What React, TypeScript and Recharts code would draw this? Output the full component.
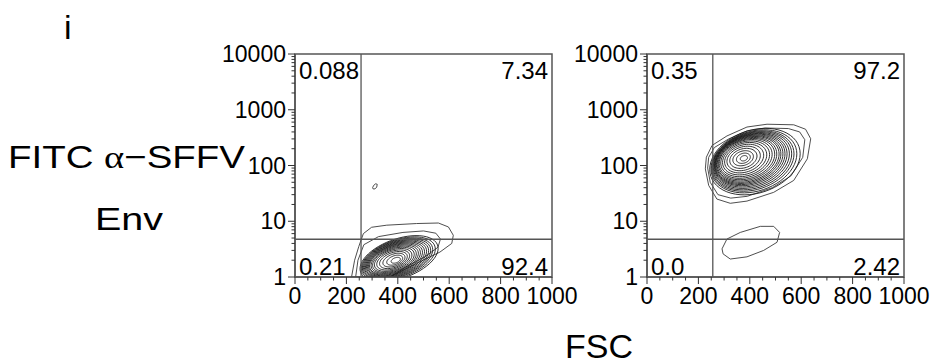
import React from 'react';
import { LineChart, Line, XAxis, YAxis, ReferenceLine, ReferenceArea } from 'recharts';

// ---------- axes ----------
const xTicks = [0, 50, 100, 150, 200, 250, 300, 350, 400, 450, 500, 550, 600, 650, 700, 750, 800, 850, 900, 950, 1000];
const xTickLabels = [0, 200, 400, 600, 800, 1000];
const yTicks = [
  1, 2, 3, 4, 5, 6, 7, 8, 9,
  10, 20, 30, 40, 50, 60, 70, 80, 90,
  100, 200, 300, 400, 500, 600, 700, 800, 900,
  1000, 2000, 3000, 4000, 5000, 6000, 7000, 8000, 9000,
  10000,
];
const yTickLabels = [1, 10, 100, 1000, 10000];

// ---------- quadrant gates & percentages ----------
const leftGate = { x: 257, y: 4.75 };
const rightGate = { x: 256, y: 4.75 };
const leftQuadrants = ['0.088', '7.34', '0.21', '92.4']; // UL, UR, LL, LR
const rightQuadrants = ['0.35', '97.2', '0.0', '2.42'];

// ---------- explicit outer contours (FSC, FITC) ----------
const leftOuterContour: [number, number][] = [
  [220, 1], [232, 2.0], [248, 3.5], [266, 6.0], [298, 7.8], [357, 8.5], [473, 9.1], [558, 9.3],
  [597, 7.9], [616, 5.6], [610, 4.0], [564, 2.8], [473, 1.76], [409, 1.24], [370, 1], [220, 1],
];
const leftSecondContour: [number, number][] = [
  [236, 1], [245, 2.0], [268, 3.8], [325, 5.3], [420, 6.3], [500, 6.7], [548, 6.1], [566, 4.8],
  [556, 3.4], [505, 2.3], [430, 1.5], [370, 1], [236, 1],
];
const leftSmallBlob: [number, number][] = [
  [302, 40], [306, 44], [314, 47], [320, 46], [318, 41], [311, 38], [304, 38], [302, 40],
];
const rightOuterContour: [number, number][] = [
  [227, 87], [240, 44], [272, 25], [324, 21], [389, 23], [493, 33], [571, 54], [624, 132],
  [637, 302], [617, 447], [571, 537], [467, 550], [389, 490], [311, 339], [253, 229], [231, 141], [227, 87],
];
const rightSecondContour: [number, number][] = [
  [236, 90], [246, 50], [276, 30], [326, 26], [390, 28], [488, 40], [560, 65], [606, 140],
  [614, 290], [594, 400], [550, 460], [460, 470], [390, 420], [318, 300], [262, 210], [240, 140], [236, 90],
];
const rightLowBlob: [number, number][] = [
  [292, 3.2], [311, 4.8], [363, 6.3], [441, 8.1], [493, 8.1], [516, 6.3], [506, 4.2],
  [454, 3.0], [389, 2.3], [324, 2.1], [296, 2.6], [292, 3.2],
];

// ---------- inner contour rings: [centre FSC, centre log10 FITC, half-width FSC, half-height decades] ----------
const leftRings: [number, number, number, number][] = [
  [405, 0.33, 152, 0.37],
  [402, 0.328, 144, 0.352],
  [399, 0.326, 137, 0.336],
  [397, 0.324, 131, 0.322],
  [395, 0.322, 125, 0.308],
  [393, 0.32, 119, 0.294],
  [391, 0.318, 113, 0.28],
  [389, 0.316, 107, 0.266],
  [387, 0.314, 101, 0.252],
  [385, 0.312, 95, 0.237],
  [384, 0.31, 88, 0.221],
  [383, 0.308, 81, 0.204],
  [382, 0.306, 73, 0.185],
  [382, 0.305, 64, 0.163],
  [383, 0.304, 54, 0.139],
  [385, 0.303, 43, 0.112],
  [388, 0.302, 31, 0.082],
  [392, 0.3, 18, 0.048],
];
const leftTilt = 0.0012;

const rightRings: [number, number, number, number][] = [
  [420, 2.07, 176, 0.58],
  [416, 2.075, 167, 0.55],
  [412, 2.08, 160, 0.527],
  [409, 2.085, 154, 0.507],
  [406, 2.09, 148, 0.487],
  [403, 2.095, 142, 0.468],
  [400, 2.1, 137, 0.45],
  [397, 2.103, 132, 0.433],
  [394, 2.106, 127, 0.416],
  [392, 2.109, 122, 0.399],
  [389, 2.112, 116, 0.38],
  [387, 2.115, 110, 0.36],
  [384, 2.118, 103, 0.338],
  [382, 2.12, 95, 0.312],
  [380, 2.122, 86, 0.283],
  [378, 2.124, 76, 0.25],
  [376, 2.126, 65, 0.214],
  [375, 2.128, 53, 0.175],
  [374, 2.13, 40, 0.132],
  [375, 2.13, 27, 0.09],
  [377, 2.13, 14, 0.047],
];
const rightTilt = 0.0008;

const FONT = '"Liberation Sans", Arial, Helvetica, sans-serif';
const SERIF = '"Liberation Serif", "Times New Roman", serif';
const INK = '#1a1a1a';
const FRAME = '#555';

type Pt = { x: number; y: number };

function toPts(list: [number, number][]): Pt[] {
  return list.map(([x, y]) => ({ x, y }));
}

// closed ring outline (sheared ellipse in FSC / log10 space), clipped at the axis minimum
function ringPts(r: [number, number, number, number], tilt: number): Pt[] {
  const [cx, cy, rx, ry] = r;
  const pts: Pt[] = [];
  const n = 56;
  for (let i = 0; i <= n; i++) {
    const t = (i / n) * Math.PI * 2;
    const dx = rx * Math.cos(t);
    const lg = cy + ry * Math.sin(t) + tilt * dx;
    pts.push({ x: cx + dx, y: Math.pow(10, Math.max(0, lg)) });
  }
  return pts;
}

function YTick(props: any) {
  const { x, y, payload } = props;
  const v = payload.value;
  const ax = x + 9;
  const major = yTickLabels.includes(v);
  return (
    <g>
      <line x1={ax - (major ? 7 : 3.5)} x2={ax} y1={y} y2={y} stroke="#333" strokeWidth={1} />
      {major && (
        <text x={x} y={y} dy="0.355em" textAnchor="end" fontSize={23} fontFamily={FONT} fill="#000">
          {v}
        </text>
      )}
    </g>
  );
}

function XTick(props: any) {
  const { x, y, payload } = props;
  const v = payload.value;
  const ay = y - 11;
  const major = xTickLabels.includes(v);
  return (
    <g>
      <line x1={x} x2={x} y1={ay} y2={ay + (major ? 7 : 3.5)} stroke="#333" strokeWidth={1} />
      {major && (
        <text x={x} y={y} dy="0.71em" textAnchor="middle" fontSize={23} fontFamily={FONT} fill="#000">
          {v}
        </text>
      )}
    </g>
  );
}

function quadLabel(text: string, corner: 'tl' | 'tr' | 'bl' | 'br') {
  return (props: any) => {
    const vb = props.viewBox || {};
    const { x = 0, y = 0, width = 0, height = 0 } = vb;
    const left = corner === 'tl' || corner === 'bl';
    const top = corner === 'tl' || corner === 'tr';
    const tx = left ? x + 4 : x + width - 4;
    const ty = top ? y + 24.5 : y + height - 2.5;
    return (
      <text x={tx} y={ty} textAnchor={left ? 'start' : 'end'} fontSize={24} fontFamily={FONT} fill="#000">
        {text}
      </text>
    );
  };
}

type PlotProps = {
  left: number;
  gate: { x: number; y: number };
  quads: string[];
  rings: [number, number, number, number][];
  tilt: number;
  contours: [number, number][][];
};

function FlowPlot({ left, gate, quads, rings, tilt, contours }: PlotProps) {
  const series: Pt[][] = [...contours.map(toPts), ...rings.map((r) => ringPts(r, tilt))];
  return (
    <div style={{ position: 'absolute', left, top: 40 }}>
      <LineChart width={385} height={280} margin={{ top: 14, right: 33, bottom: 0, left: 0 }}>
        <XAxis
          type="number"
          dataKey="x"
          domain={[0, 1000]}
          ticks={xTicks}
          interval={0}
          tick={(p: any) => <XTick {...p} />}
          tickLine={false}
          tickSize={7}
          tickMargin={4}
          height={43}
          axisLine={{ stroke: FRAME, strokeWidth: 1.5 }}
          allowDataOverflow
        />
        <YAxis
          type="number"
          scale="log"
          domain={[1, 10000]}
          ticks={yTicks}
          interval={0}
          tick={(p: any) => <YTick {...p} />}
          tickLine={false}
          tickSize={7}
          tickMargin={2}
          width={95}
          axisLine={{ stroke: FRAME, strokeWidth: 1.5 }}
          allowDataOverflow
        />
        <ReferenceArea x1={0} x2={gate.x} y1={gate.y} y2={10000} fill="none" stroke="none" label={quadLabel(quads[0], 'tl')} />
        <ReferenceArea x1={gate.x} x2={1000} y1={gate.y} y2={10000} fill="none" stroke="none" label={quadLabel(quads[1], 'tr')} />
        <ReferenceArea x1={0} x2={gate.x} y1={1} y2={gate.y} fill="none" stroke="none" label={quadLabel(quads[2], 'bl')} />
        <ReferenceArea x1={gate.x} x2={1000} y1={1} y2={gate.y} fill="none" stroke="none" label={quadLabel(quads[3], 'br')} />
        {series.map((pts, i) => (
          <Line
            key={i}
            data={pts}
            dataKey="y"
            type="linear"
            stroke={i < contours.length ? '#3a3a3a' : INK}
            strokeWidth={0.9}
            dot={false}
            activeDot={false}
            isAnimationActive={false}
          />
        ))}
        <ReferenceLine x={gate.x} stroke={FRAME} strokeWidth={1.3} />
        <ReferenceLine y={gate.y} stroke={FRAME} strokeWidth={1.3} />
        <ReferenceArea x1={0} x2={1000} y1={1} y2={10000} fill="none" stroke={FRAME} strokeWidth={1.5} fillOpacity={0} />
      </LineChart>
    </div>
  );
}

export default function App() {
  return (
    <div
      style={{
        position: 'absolute',
        left: 0,
        top: 0,
        width: 931,
        height: 364,
        background: '#fff',
        overflow: 'hidden',
      }}
    >
      <svg width={931} height={364} style={{ position: 'absolute', left: 0, top: 0 }}>
        <text x={64} y={39} fontSize={34} fontFamily={FONT} fill="#000">i</text>
        <text x={8} y={168} fontSize={32} fontFamily={FONT} fill="#000" textLength={237} lengthAdjust="spacingAndGlyphs">
          FITC <tspan fontFamily={SERIF}>α</tspan>−SFFV
        </text>
        <text x={95} y={230} fontSize={32} fontFamily={FONT} fill="#000" textLength={68} lengthAdjust="spacingAndGlyphs">
          Env
        </text>
        <text x={565} y={358} fontSize={34} fontFamily={FONT} fill="#000" textLength={68} lengthAdjust="spacingAndGlyphs">
          FSC
        </text>
      </svg>
      <FlowPlot
        left={200}
        gate={leftGate}
        quads={leftQuadrants}
        rings={leftRings}
        tilt={leftTilt}
        contours={[leftOuterContour, leftSecondContour, leftSmallBlob]}
      />
      <FlowPlot
        left={552}
        gate={rightGate}
        quads={rightQuadrants}
        rings={rightRings}
        tilt={rightTilt}
        contours={[rightOuterContour, rightSecondContour, rightLowBlob]}
      />
    </div>
  );
}
